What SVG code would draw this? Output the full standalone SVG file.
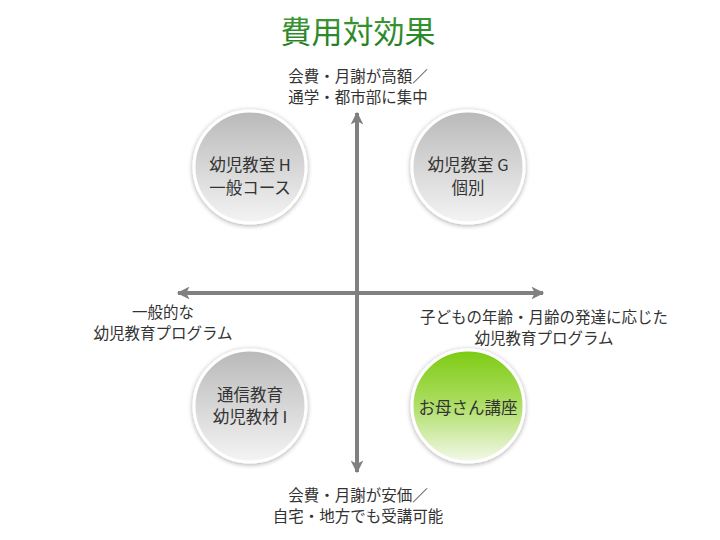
<svg xmlns="http://www.w3.org/2000/svg" width="720" height="540" viewBox="0 0 720 540">
<defs>
<linearGradient id="gGray" x1="0" y1="0" x2="0" y2="1">
<stop offset="0" stop-color="#b9b9b9"/>
<stop offset="1" stop-color="#f4f4f4"/>
</linearGradient>
<linearGradient id="gGreen" x1="0" y1="0" x2="0" y2="1">
<stop offset="0" stop-color="#7ccb12"/>
<stop offset="0.45" stop-color="#a9dc5c"/>
<stop offset="1" stop-color="#f3f9ea"/>
</linearGradient>
<linearGradient id="gTitle" x1="0" y1="0" x2="0" y2="1">
<stop offset="0" stop-color="#45a03c"/>
<stop offset="1" stop-color="#1e7a1e"/>
</linearGradient>
<filter id="sh" x="-20%" y="-20%" width="140%" height="140%">
<feGaussianBlur in="SourceAlpha" stdDeviation="2.5"/>
<feOffset dx="0" dy="1" result="b"/>
<feComponentTransfer><feFuncA type="linear" slope="0.35"/></feComponentTransfer>
<feMerge><feMergeNode/><feMergeNode in="SourceGraphic"/></feMerge>
</filter>
<marker id="ah" viewBox="0 0 10 10" refX="9" refY="5" markerWidth="5" markerHeight="3.2" orient="auto" markerUnits="strokeWidth">
<path d="M0,0 L10,5 L0,10 L2.5,5 z" fill="#808080"/>
</marker>
</defs>
<style>
text{font-family:"Noto Sans CJK JP","Liberation Sans",sans-serif;fill:#333;text-anchor:middle}
.lbl{font-size:15.5px}
.node{font-size:16.5px}
.axis{stroke:#808080;stroke-width:4;fill:none}
.circ{stroke:#fff;stroke-width:3;filter:url(#sh)}
</style>
<rect width="720" height="540" fill="#fff"/>
<text x="358" y="43" style="font-size:31px;fill:url(#gTitle)">費用対効果</text>
<g id="connectors">
<line class="axis" x1="357" y1="470" x2="357" y2="113" marker-end="url(#ah)"/>
<line class="axis" x1="357" y1="113" x2="357" y2="472" marker-end="url(#ah)"/>
<line class="axis" x1="357" y1="293" x2="178" y2="293" marker-end="url(#ah)"/>
<line class="axis" x1="357" y1="293" x2="543" y2="293" marker-end="url(#ah)"/>
</g>
<g id="label-top"><text class="lbl" x="358" y="82">会費・月謝が高額／</text><text class="lbl" x="358" y="103">通学・都市部に集中</text></g>
<g id="label-left"><text class="lbl" x="163" y="318">一般的な</text><text class="lbl" x="163" y="339">幼児教育プログラム</text></g>
<g id="label-right"><text class="lbl" x="544" y="323">子どもの年齢・月齢の発達に応じた</text><text class="lbl" x="544" y="344">幼児教育プログラム</text></g>
<g id="label-bottom"><text class="lbl" x="358" y="501">会費・月謝が安価／</text><text class="lbl" x="358" y="522">自宅・地方でも受講可能</text></g>
<g id="node-h"><circle class="circ" cx="250" cy="167" r="56" fill="url(#gGray)"/><text class="node" x="250" y="171">幼児教室 H</text><text class="node" x="250" y="193.5">一般コース</text></g>
<g id="node-g"><circle class="circ" cx="468" cy="167" r="56" fill="url(#gGray)"/><text class="node" x="468" y="171">幼児教室 G</text><text class="node" x="468" y="193.5">個別</text></g>
<g id="node-i"><circle class="circ" cx="250" cy="406" r="56" fill="url(#gGray)"/><text class="node" x="250" y="400.5">通信教育</text><text class="node" x="250" y="423">幼児教材 I</text></g>
<g id="node-m"><circle class="circ" cx="468" cy="406" r="56" fill="url(#gGreen)"/><text class="node" x="468" y="414">お母さん講座</text></g>
</svg>
